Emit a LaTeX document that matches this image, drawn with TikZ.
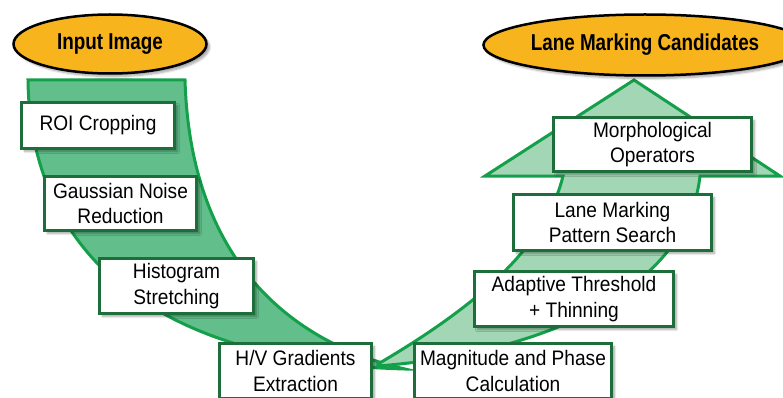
\documentclass[tikz,border=0pt]{standalone}
\usepackage{fontspec}
\setmainfont{Liberation Sans}
\newfontfamily\boxfont[FakeStretch=0.91]{Liberation Sans}
\newfontfamily\titlefont[FakeStretch=0.82]{Liberation Sans}
\usetikzlibrary{shapes.geometric,shadows.blur}
\definecolor{bandline}{HTML}{14A04B}
\definecolor{leftfill}{HTML}{62BE8B}
\definecolor{rightfill}{HTML}{A2D6B4}
\definecolor{boxline}{HTML}{1E6E3C}
\definecolor{ovalfill}{HTML}{F8B41C}
\tikzset{
  band/.style={draw=bandline, line width=3pt, line join=miter},
  stepbox/.style={draw=boxline, line width=3pt, fill=white, rectangle,
    inner sep=0pt, align=center, font=\boxfont\fontsize{21}{25.7}\selectfont,
    blur shadow={shadow xshift=3pt, shadow yshift=-3pt, shadow blur steps=6, shadow opacity=35}},
  oval/.style={ellipse, draw=black, line width=2.5pt, fill=ovalfill, inner sep=0pt,
    font=\titlefont\bfseries\fontsize{23}{27}\selectfont,
    blur shadow={shadow xshift=3pt, shadow yshift=-3pt, shadow blur steps=6, shadow opacity=35}}
}
\begin{document}
\begin{tikzpicture}[x=1pt,y=-1pt]
\useasboundingbox (0,0) rectangle (783,398);
\clip (0,0) rectangle (783,398);
% left band
\path[band, fill=leftfill] (28,80) -- (185,80)
  .. controls (190,250) and (280,340) .. (405,369)
  .. controls (150,362) and (30,250) .. (28,80) -- cycle;
% right band with arrow head
\path[band, fill=rightfill] (378,364)
  .. controls (470,310) and (545,250) .. (563,176)
  -- (485,176) -- (634,80) -- (780,176) -- (700,176)
  .. controls (690,270) and (580,350) .. (378,366) -- cycle;
% ovals
\node[oval, minimum width=193pt, minimum height=59pt] (input) at (110,44) {Input Image};
\node[oval, minimum width=271pt, minimum height=61pt] (cand) at (645,45) {Lane Marking Candidates};
% boxes
\node[stepbox, minimum width=153pt, minimum height=46pt] (roi) at (98,125.5) {ROI Cropping};
\node[stepbox, minimum width=152pt, minimum height=54pt] (gauss) at (120.5,203.5) {Gaussian Noise\\Reduction};
\node[stepbox, minimum width=154pt, minimum height=55pt] (hist) at (176.5,286) {Histogram\\Stretching};
\node[stepbox, minimum width=152pt, minimum height=55pt] (grad) at (295.5,371) {H/V Gradients\\Extraction};
\node[stepbox, minimum width=197pt, minimum height=55pt] (mag) at (513,371) {Magnitude and Phase\\Calculation};
\node[stepbox, minimum width=199pt, minimum height=55pt] (adapt) at (574,299) {Adaptive Threshold\\+ Thinning};
\node[stepbox, minimum width=198pt, minimum height=56pt] (lane) at (612.5,222.5) {Lane Marking\\Pattern Search};
\node[stepbox, minimum width=198pt, minimum height=54pt] (morph) at (652.5,144.5) {Morphological\\Operators};
\end{tikzpicture}
\end{document}
